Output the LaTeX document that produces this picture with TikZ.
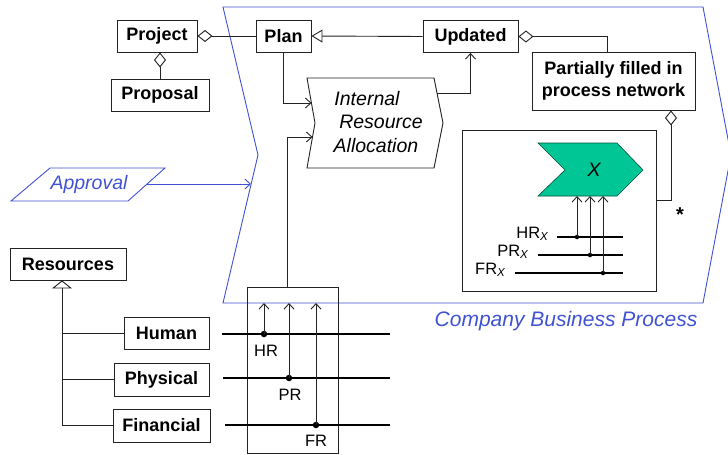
\documentclass[tikz,border=0pt]{standalone}
\usepackage{fontspec}
\setmainfont{Liberation Sans}
\usetikzlibrary{arrows.meta}
\definecolor{cbpblue}{RGB}{64,82,212}
\definecolor{procgreen}{RGB}{0,198,150}
\definecolor{lineblack}{RGB}{35,35,35}
\begin{document}
\begin{tikzpicture}[x=1pt,y=-1pt,
  box/.style={draw=lineblack, line width=0.9pt, fill=white, inner sep=0pt,
    font=\fontsize{18}{22}\selectfont\bfseries, align=center},
  conn/.style={draw=lineblack, line width=0.9pt},
  openarrow/.style={-{Straight Barb[length=5.5pt,width=10pt,line width=0.9pt]}},
  aggr/.style={-{Diamond[open,length=15pt,width=12pt,line width=0.9pt]}},
  gen/.style={-{Triangle[open,length=11pt,width=13pt,line width=0.9pt]}},
  genflat/.style={-{Triangle[open,length=8pt,width=20pt,line width=0.9pt]}},
  resline/.style={draw=black, line width=1.9pt},
  dot/.style={circle, fill=black, inner sep=0pt, minimum size=6.5pt},
  smalldot/.style={circle, fill=black, inner sep=0pt, minimum size=4.5pt},
  lbl/.style={font=\fontsize{16.5}{19}\selectfont, inner sep=0pt},
  bluetext/.style={text=cbpblue, font=\fontsize{19.5}{23}\selectfont\itshape}
]
\useasboundingbox (0,0) rectangle (728,455);

% Company business process outline
\draw[cbpblue, line width=0.9pt] (223,7) -- (703,7) -- (731,155) -- (703,303) -- (223,303) -- (258,155) -- cycle;
\node[bluetext, font=\fontsize{21}{25}\selectfont\itshape, anchor=center] (cbp) at (566,321) {Company Business Process};

% Approval
\draw[cbpblue, line width=0.9pt] (50,168) -- (165,168) -- (128,201) -- (11,201) -- cycle;
\node[bluetext] (approval) at (89,184) {Approval};
\coordinate (apprR) at (147,184);
\coordinate (cbpL) at (251,184);
\draw[cbpblue, line width=0.9pt, -{Straight Barb[length=5.5pt,width=10pt,line width=0.9pt]}] (apprR) -- (cbpL);

% Top boxes
\node[box, minimum width=80pt, minimum height=32pt] (project) at (157,36) {Project};
\node[box, minimum width=55pt, minimum height=32pt] (plan) at (283.5,36) {Plan};
\node[box, minimum width=98pt, minimum height=32pt] (proposal) at (160,95) {Proposal};
\node[box, minimum width=95pt, minimum height=32pt] (updated) at (470.5,36.5) {Updated};
\node[box, minimum width=163pt, minimum height=58pt] (partial) at (613.5,81) {Partially filled in\\process network};

\draw[conn, aggr] (plan.west) -- (project.east);
\draw[conn, aggr] (proposal.north) -- (proposal.north |- project.south);
\draw[conn, gen] (updated.west) -- (plan.east);
\draw[conn, aggr] ([xshift=-6.5pt]partial.north) |- (updated.east);

% Internal Resource Allocation
\draw[conn, fill=white] (307,78) -- (434,78) -- (443,123) -- (434,168) -- (307,168) -- (315,123) -- cycle;
\node[font=\fontsize{19.5}{23.5}\selectfont\itshape, align=center, inner sep=0pt] (ira) at (374,122) {Internal\hspace*{14pt}\\\hspace*{14pt}Resource\\\hspace*{4pt}Allocation};
\coordinate (iraA) at (311.5,103);
\coordinate (iraB) at (312.5,137);
\coordinate (iraC) at (437,93);
\draw[conn, openarrow] (plan.south) |- (iraA);
\draw[conn, openarrow] (iraC) -| (updated.south);

% Process network inner box
\node[draw=lineblack, line width=0.9pt, minimum width=194pt, minimum height=161pt, inner sep=0pt] (inner) at (559,210.5) {};
\draw[conn, aggr] ([yshift=10.5pt]inner.east) -| ([xshift=57.5pt]partial.south);
\node[font=\fontsize{20}{24}\selectfont\bfseries, inner sep=0pt] (star) at (680,215) {*};

\draw[draw=black!60!procgreen, line width=0.6pt, fill=procgreen] (538,143) -- (617,143) -- (643,170) -- (617,196) -- (538,196) -- (565,170) -- cycle;
\node[font=\fontsize{19.5}{23}\selectfont\itshape, inner sep=0pt] (procx) at (594,170) {X};

\draw[resline, line width=1.6pt] (557,237) -- (623,237);
\draw[resline, line width=1.6pt] (538,255) -- (623,255);
\draw[resline, line width=1.6pt] (515,273) -- (623,273);
\node[smalldot] (hx) at (577,237) {};
\node[smalldot] (px) at (590,255) {};
\node[smalldot] (fx) at (603,273) {};
\coordinate (hxT) at (577,196);
\coordinate (pxT) at (590,196);
\coordinate (fxT) at (603,196);
\draw[conn, openarrow] (hx.center) -- (hxT);
\draw[conn, openarrow] (px.center) -- (pxT);
\draw[conn, openarrow] (fx.center) -- (fxT);
\node[lbl, anchor=base east] (hxl) at (549,238) {HR\textsubscript{\textit{X}}};
\node[lbl, anchor=base east] (pxl) at (529,256) {PR\textsubscript{\textit{X}}};
\node[lbl, anchor=base east] (fxl) at (506,274) {FR\textsubscript{\textit{X}}};

% Resources
\node[box, minimum width=116pt, minimum height=32pt] (resources) at (68,264) {Resources};
\node[box, minimum width=85pt, minimum height=32pt] (human) at (166.5,333) {Human};
\node[box, minimum width=95pt, minimum height=33pt] (physical) at (161.5,379.5) {Physical};
\node[box, minimum width=97pt, minimum height=33pt] (financial) at (161.5,425.5) {Financial};
\coordinate (rx) at (62,0);
\draw[conn, genflat] (financial.west) -| ([xshift=-6pt]resources.south);
\draw[conn] (human.west) -- (human.west -| rx);
\draw[conn] (physical.west) -- (physical.west -| rx);

% Resource box with lines
\node[draw=lineblack, line width=0.9pt, minimum width=91pt, minimum height=166pt, inner sep=0pt] (rbox) at (292.5,370) {};
\draw[conn, openarrow] ([xshift=-5.5pt]rbox.north) |- (iraB);

\draw[resline] (222,334) -- (390,334);
\draw[resline] (223,378) -- (390,378);
\draw[resline] (225,425) -- (390,425);
\node[dot] (hr) at (264,334) {};
\node[dot] (pr) at (289,378) {};
\node[dot] (fr) at (316,425) {};
\coordinate (hrT) at (264,303);
\coordinate (prT) at (289,303);
\coordinate (frT) at (316,303);
\draw[conn, openarrow] (hr.center) -- (hrT);
\draw[conn, openarrow] (pr.center) -- (prT);
\draw[conn, openarrow] (fr.center) -- (frT);
\node[lbl] (hrl) at (266,351) {HR};
\node[lbl] (prl) at (290,395) {PR};
\node[lbl] (frl) at (316,441) {FR};
\end{tikzpicture}
\end{document}
